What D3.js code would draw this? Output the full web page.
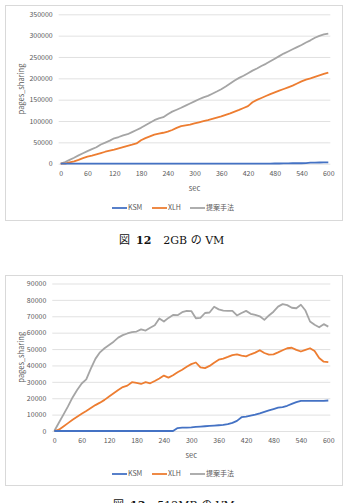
<!DOCTYPE HTML>
<html>
<head>
  <title>pages_sharing</title>
  <script src="https://d3js.org/d3.v7.min.js"></script>
  <style>
    body { margin: 0; background: #fff; }
    svg text { font-family: "Noto Sans CJK JP", "Noto Sans", sans-serif; fill: #595959; }
    .cap text { font-family: "DejaVu Serif", "Liberation Serif", "Noto Sans CJK JP", serif; fill: #111; }
  </style>
</head>
<body>
  <script>
    var secs = [0,10,20,30,40,50,60,70,80,90,100,110,120,130,140,150,160,170,180,190,200,
      210,220,230,240,250,260,270,280,290,300,310,320,330,340,350,360,370,380,390,400,
      410,420,430,440,450,460,470,480,490,500,510,520,530,540,550,560,570,580,590,600];
    var xTicks = [0,60,120,180,240,300,360,420,480,540,600];
    var seriesNames = ["KSM", "XLH", "提案手法"];

    // 図12 2GB
    var ksm2g = [0,0,0,0,0,0,0,0,0,0,0,0,0,0,0,0,0,0,0,0,0,0,0,0,0,0,0,0,0,0,0,
      0,0,0,0,0,0,0,0,0,0,0,0,0,0,0,0,0,500,500,700,800,1000,1000,1000,1500,2500,2700,2800,3000,3000];
    var xlh2g = [0,0,3000,5500,9000,13000,16500,19000,22000,25000,28000,30500,33000,36000,39000,
      42000,44500,47500,55000,60000,64000,68000,70500,72500,75000,79000,84000,88000,90000,91500,
      94500,97000,99500,102000,105000,108000,111000,114500,118000,122000,126000,130500,135000,
      144000,149500,154000,158500,163000,167000,171000,175000,179000,183000,188000,193000,197000,
      200000,203500,207000,210500,213500];
    var prop2g = [0,4000,9000,14000,19500,24500,29500,34000,38500,45000,49500,54000,59500,62500,
      66500,69000,74000,79000,84000,90000,96000,102000,106000,109000,116000,122000,126500,131000,
      136000,141000,146000,151000,155500,159000,164000,169000,174500,181000,188000,195000,201000,
      206000,212000,218000,223000,229000,234000,240000,246000,252000,258000,263000,268000,273000,
      278000,284000,289000,295000,299500,303000,305000];
    var yTicks2g = [0,50000,100000,150000,200000,250000,300000,350000];

    // 図13 512MB
    var ksm512 = [0,0,0,0,0,0,0,0,0,0,0,0,0,0,0,0,0,0,0,0,0,0,0,0,0,0,0,1800,2000,2100,2200,
      2500,2700,2900,3100,3300,3500,3700,4200,5000,6200,8400,8800,9400,10000,10800,11700,12600,
      13400,14200,14600,15400,16500,17600,18400,18400,18400,18400,18400,18400,18600];
    var xlh512 = [0,800,2800,4800,6800,8700,10500,12200,14000,15800,17300,19000,21000,23000,25000,
      26800,27700,29800,29300,28700,29800,29100,30500,32000,33800,32600,34000,35800,37400,39200,
      40800,41800,38800,38400,39700,41700,43500,44200,45200,46300,46800,46000,45500,46800,47800,
      49300,47600,46600,46800,48000,49300,50500,50800,49500,48500,49500,50500,48800,44500,42300,42000];
    var prop512 = [0,5000,10000,15000,20500,25000,29000,31500,38000,44000,48000,50500,52500,54500,
      57000,58500,59500,60300,60700,62000,61300,63000,64500,68700,66800,69000,70800,70700,72500,
      73300,73200,68800,69000,72000,72300,75800,74200,73400,73300,73300,70500,72000,73300,71500,
      70800,70000,67800,70500,72800,75900,77400,76800,75200,74900,77000,73500,66800,64800,63300,
      65200,63700];
    var yTicks512 = [0,10000,20000,30000,40000,50000,60000,70000,80000,90000];

    var colors = ["#4472C4", "#ED7D31", "#A5A5A5"];

    var svg = d3.select("body").append("svg")
      .attr("width", 352)
      .attr("height", 503);

    function drawChart(opt) {
      var g = svg.append("g");

      g.append("rect")
        .attr("x", opt.box[0] + 0.5).attr("y", opt.box[1] + 0.5)
        .attr("width", opt.box[2]).attr("height", opt.box[3])
        .attr("fill", "#fff").attr("stroke", "#D9D9D9");

      var x = d3.scaleLinear().domain([0, 600]).range([opt.left, opt.right]);
      var y = d3.scaleLinear().domain([0, opt.yMax]).range([opt.bottom, opt.top]);

      var yAxis = d3.axisLeft(y).tickValues(opt.yTicks).tickSize(-(opt.right - opt.left + 4))
        .tickFormat(d3.format("d")).tickPadding(6);
      var ya = g.append("g").attr("transform", "translate(" + (opt.left - 2) + ",0)").call(yAxis);
      ya.select(".domain").remove();
      ya.selectAll("line").attr("stroke", "#D9D9D9").attr("stroke-width", 0.8);
      ya.selectAll("text").style("font-size", "7px").attr("fill", "#595959");

      var xAxis = d3.axisBottom(x).tickValues(xTicks).tickSize(0).tickPadding(7);
      var xa = g.append("g").attr("transform", "translate(0," + opt.bottom + ")").call(xAxis);
      xa.select(".domain").remove();
      xa.selectAll("text").style("font-size", "7px").attr("fill", "#595959");

      g.append("text")
        .attr("transform", "translate(" + opt.yLabelX + "," + ((opt.top + opt.bottom) / 2) + ") rotate(-90)")
        .attr("text-anchor", "middle")
        .style("font-size", "7.5px")
        .text("pages_sharing");

      g.append("text")
        .attr("x", (opt.left + opt.right) / 2)
        .attr("y", opt.bottom + 27)
        .attr("text-anchor", "middle")
        .style("font-size", "7.5px")
        .text("sec");

      var line = d3.line()
        .x(function(d, i) { return x(secs[i]); })
        .y(function(d) { return y(d); });

      g.selectAll(".series")
        .data([opt.series[2], opt.series[1], opt.series[0]])
        .enter()
        .append("path")
        .attr("d", line)
        .attr("fill", "none")
        .attr("stroke", function(d, i) { return colors[2 - i]; })
        .attr("stroke-width", 1.8)
        .attr("stroke-linejoin", "round");

      var lx = [112, 152, 190];
      var leg = g.selectAll(".leg")
        .data(seriesNames)
        .enter()
        .append("g")
        .attr("transform", function(d, i) { return "translate(" + lx[i] + "," + opt.legendY + ")"; });
      leg.append("line")
        .attr("x1", 0).attr("x2", 15).attr("y1", 0).attr("y2", 0)
        .attr("stroke", function(d, i) { return colors[i]; })
        .attr("stroke-width", 1.8);
      leg.append("text")
        .attr("x", 16).attr("dy", "0.35em")
        .style("font-size", "7px")
        .text(function(d) { return d; });

      // caption: 図 + bold number + text
      var cap = svg.append("g").attr("class", "cap")
        .append("text")
        .attr("x", opt.capX)
        .attr("y", opt.capY)
        .style("font-size", "11px");
      cap.append("tspan").text("図");
      cap.append("tspan").attr("dx", 6).style("font-weight", "bold").text(opt.capNum);
      cap.append("tspan").attr("dx", 12).text(opt.capText);
    }

    drawChart({
      box: [5, 5, 337, 215], left: 60.7, right: 328.3, top: 14.3, bottom: 163.7,
      yMax: 350000, yTicks: yTicks2g, yLabelX: 24, legendY: 208,
      series: [ksm2g, xlh2g, prop2g], capX: 119, capY: 244, capNum: "12", capText: "2GB の VM"
    });
    drawChart({
      box: [5, 275, 337, 210], left: 54.3, right: 328.3, top: 283.5, bottom: 431,
      yMax: 90000, yTicks: yTicks512, yLabelX: 24, legendY: 474,
      series: [ksm512, xlh512, prop512], capX: 113, capY: 509, capNum: "13", capText: "512MB の VM"
    });
  </script>
</body>
</html>
